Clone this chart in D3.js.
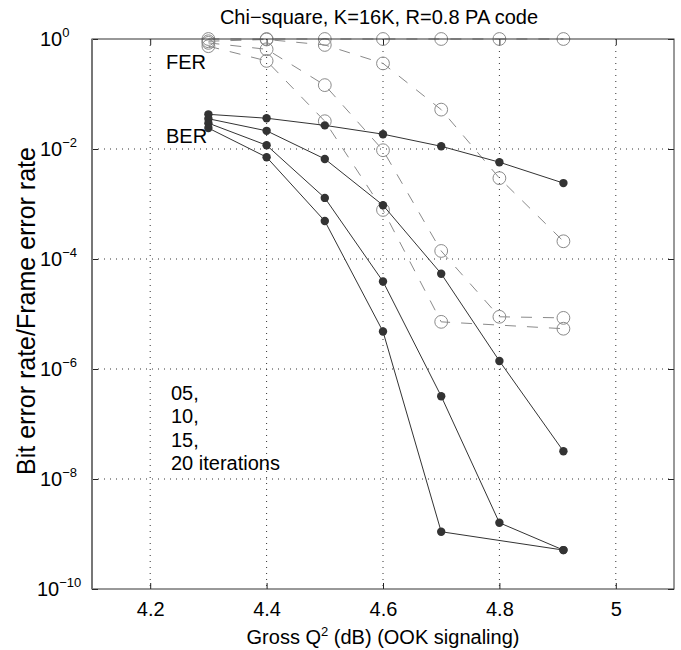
<!DOCTYPE html>
<html>
<head>
<meta charset="utf-8">
<script src="https://cdn.jsdelivr.net/npm/d3@7"></script>
<style>
  body { margin: 0; background: #fff; }
  svg text { font-family: "Liberation Sans", Arial, Helvetica, sans-serif; fill: #000; }
</style>
</head>
<body>
<div id="graficos"></div>
<script>
// valores
const snr = [4.3, 4.4, 4.5, 4.6, 4.7, 4.8, 4.91];

// BER (pontos cheios), 05/10/15/20 iteracoes; null = sem ponto
const ber05 = [0.0427, 0.0363, 0.0269, 0.0186, 0.0112, 5.75e-3, 2.4e-3];
const ber10 = [0.0355, 0.0214, 6.6e-3, 9.5e-4, 5.4e-5, 1.4e-6, 3.2e-8];
const ber15 = [0.0295, 0.0117, 1.29e-3, 3.9e-5, 3.2e-7, 1.6e-9, 5.1e-10];
const ber20 = [0.024, 7.1e-3, 4.9e-4, 4.8e-6, 1.1e-9, null, 5.1e-10];

// FER (circulos abertos, tracejado)
const fer05 = [1, 1, 1, 1, 1, 1, 1];
const fer10 = [0.91, 0.98, 0.78, 0.36, 0.052, 2.95e-3, 2.1e-4];
const fer15 = [0.85, 0.65, 0.145, 9.5e-3, 1.4e-4, 8.9e-6, 8.5e-6];
const fer20 = [0.74, 0.40, 0.032, 7.8e-4, 7.2e-6, null, 5.4e-6];

const xTicks = [4.2, 4.4, 4.6, 4.8, 5];
const xTickLabels = ["4.2", "4.4", "4.6", "4.8", "5"];
const yTicks = [1, 1e-2, 1e-4, 1e-6, 1e-8, 1e-10];
const yExpoentes = ["0", "\u22122", "\u22124", "\u22126", "\u22128", "\u221210"];

const titulo = "Chi\u2212square, K=16K, R=0.8 PA code";
const iteracoes = ["05,", "10,", "15,", "20 iterations"];

const W = 681, H = 650;
const esq = 92, dir = 674, topo = 39, baixo = 589;
const fonte = 20;

const svg = d3.select('#graficos').append('svg')
  .attr('width', W).attr('height', H);

const x = d3.scaleLinear().domain([4.1, 5.1]).range([esq, dir]);
const y = d3.scaleLog().domain([1e-10, 1]).range([baixo, topo]);

// grade pontilhada
const grade = svg.append('g');
grade.selectAll('line.gx').data(xTicks).enter().append('line')
  .attr('x1', d => x(d)).attr('x2', d => x(d))
  .attr('y1', topo).attr('y2', baixo)
  .attr('stroke', '#333').attr('stroke-width', 1).attr('stroke-dasharray', '1,5');
grade.selectAll('line.gy').data(yTicks.slice(1, -1)).enter().append('line')
  .attr('x1', esq).attr('x2', dir)
  .attr('y1', d => y(d)).attr('y2', d => y(d))
  .attr('stroke', '#333').attr('stroke-width', 1).attr('stroke-dasharray', '1,5');

// eixos com ticks para dentro
const fmtX = (d, i) => xTickLabels[i];
svg.append('g').attr('transform', `translate(0,${baixo})`)
  .call(d3.axisBottom(x).tickValues(xTicks).tickSizeInner(-6).tickSizeOuter(0).tickPadding(13).tickFormat(fmtX))
  .call(g => g.select('.domain').remove())
  .call(g => g.selectAll('text').attr('font-size', fonte).attr('fill', '#000'))
  .call(g => g.selectAll('line').attr('stroke', '#222'));
svg.append('g').attr('transform', `translate(0,${topo})`)
  .call(d3.axisTop(x).tickValues(xTicks).tickSizeInner(-6).tickSizeOuter(0).tickFormat(''))
  .call(g => g.select('.domain').remove())
  .call(g => g.selectAll('line').attr('stroke', '#222'));
svg.append('g').attr('transform', `translate(${dir},0)`)
  .call(d3.axisRight(y).tickValues(yTicks).tickSizeInner(-6).tickSizeOuter(0).tickFormat(''))
  .call(g => g.select('.domain').remove())
  .call(g => g.selectAll('line').attr('stroke', '#222'));
svg.append('g').attr('transform', `translate(${esq},0)`)
  .call(d3.axisLeft(y).tickValues(yTicks).tickSizeInner(-6).tickSizeOuter(0).tickFormat(''))
  .call(g => g.select('.domain').remove())
  .call(g => g.selectAll('line').attr('stroke', '#222'));

// rotulos 10^n
const rotY = svg.append('g');
yTicks.forEach((v, i) => {
  const t = rotY.append('text')
    .attr('x', i == 5 ? 37 : 40).attr('y', y(v) + 7)
    .attr('font-size', fonte);
  t.append('tspan').text('10');
  t.append('tspan').attr('dy', -9).attr('font-size', 13).text(yExpoentes[i]);
});

// FER tracejado
const linha = d3.line().x(d => x(d[0])).y(d => y(d[1]));
const pares = arr => snr.map((s, i) => [s, arr[i]]).filter(d => d[1] !== null);

const fers = [fer05, fer10, fer15, fer20];
const bers = [ber05, ber10, ber15, ber20];

fers.forEach(f => {
  svg.append('path').datum(pares(f))
    .attr('d', linha)
    .attr('fill', 'none').attr('stroke', '#8a8a8a').attr('stroke-width', 1)
    .attr('stroke-dasharray', '11,11');
});
fers.forEach(f => {
  svg.append('g').selectAll('circle').data(pares(f)).enter().append('circle')
    .attr('cx', d => x(d[0])).attr('cy', d => y(d[1])).attr('r', 6.4)
    .attr('fill', 'none').attr('stroke', '#8a8a8a').attr('stroke-width', 1);
});

// BER
bers.forEach(b => {
  svg.append('path').datum(pares(b))
    .attr('d', linha)
    .attr('fill', 'none').attr('stroke', '#333').attr('stroke-width', 1);
  svg.append('g').selectAll('circle').data(pares(b)).enter().append('circle')
    .attr('cx', d => x(d[0])).attr('cy', d => y(d[1])).attr('r', 4.2)
    .attr('fill', '#333');
});

// moldura
svg.append('rect')
  .attr('x', esq).attr('y', topo).attr('width', dir - esq).attr('height', baixo - topo)
  .attr('fill', 'none').attr('stroke', '#333').attr('stroke-width', 1);
svg.append('line').attr('x1', esq).attr('x2', esq).attr('y1', topo).attr('y2', baixo)
  .attr('stroke', '#777').attr('stroke-width', 2);

// textos
svg.append('text').attr('x', 379).attr('y', 24).attr('text-anchor', 'middle')
  .attr('font-size', fonte).text(titulo);

svg.append('text').attr('x', 166).attr('y', 69).attr('font-size', fonte).text('FER');
svg.append('text').attr('x', 166).attr('y', 143).attr('font-size', fonte).text('BER');

svg.append('g').selectAll('text').data(iteracoes).enter().append('text')
  .attr('x', 171).attr('y', (d, i) => 400 + i * 23.4)
  .attr('font-size', fonte).text(d => d);

const xl = svg.append('text').attr('x', 383).attr('y', 644).attr('text-anchor', 'middle')
  .attr('font-size', fonte);
xl.append('tspan').text('Gross Q');
xl.append('tspan').attr('dy', -8).attr('font-size', 13).text('2');
xl.append('tspan').attr('dy', 8).text(' (dB) (OOK signaling)');

svg.append('text')
  .attr('transform', `translate(35,311) rotate(-90)`)
  .attr('text-anchor', 'middle').attr('font-size', 25)
  .text('Bit error rate/Frame error rate');
</script>
</body>
</html>
